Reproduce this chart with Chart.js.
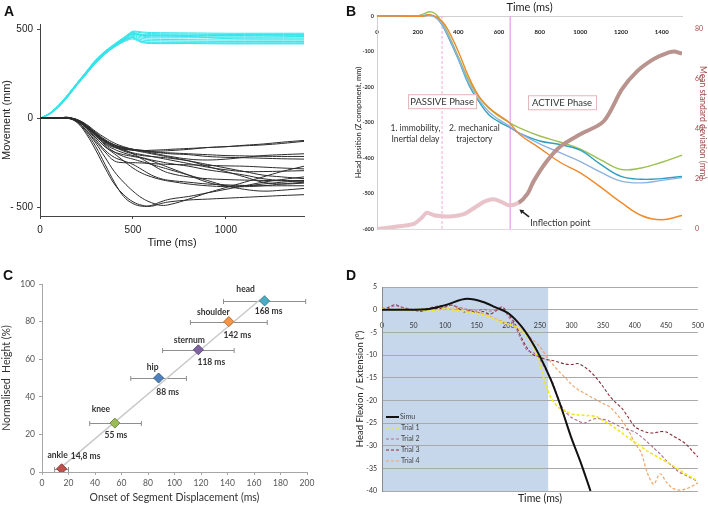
<!DOCTYPE html>
<html>
<head>
<meta charset="utf-8">
<script src="https://cdn.jsdelivr.net/npm/chart.js@4.4.1/dist/chart.umd.min.js"></script>
<style>
  body { margin: 0; background: #fff; width: 708px; height: 506px; position: relative; overflow: hidden; }
  canvas { position: absolute; }
  .panel { position: absolute; font: bold 14px "Liberation Sans", Arial, sans-serif; color: #111; }
</style>
</head>
<body>
<canvas id="chartA" width="354" height="253" style="left:0;top:0"></canvas>
<canvas id="chartB" width="354" height="253" style="left:354px;top:0"></canvas>
<canvas id="chartC" width="354" height="253" style="left:0;top:253px"></canvas>
<canvas id="chartD" width="354" height="253" style="left:354px;top:253px"></canvas>
<div class="panel" style="left:4px;top:3px">A</div>
<div class="panel" style="left:346px;top:3px">B</div>
<div class="panel" style="left:3px;top:267px">C</div>
<div class="panel" style="left:346px;top:267px">D</div>
<script>
// ---------- A : movement of trials ----------
const timeCyan = [0, 50, 100, 150, 200, 250, 300, 350, 400, 450, 480, 500, 550, 600, 800, 1000, 1200, 1420];
const cyanRuns = [
  [0, 28, 75, 135, 200, 265, 330, 378, 418, 455, 478, 490, 485, 482, 480, 478, 478, 478],
  [0, 26, 72, 132, 198, 262, 325, 374, 414, 450, 474, 486, 480, 476, 474, 472, 472, 472],
  [0, 24, 70, 128, 195, 258, 320, 370, 410, 446, 470, 482, 470, 466, 466, 465, 466, 466],
  [0, 25, 68, 126, 192, 255, 318, 368, 408, 444, 466, 478, 462, 458, 458, 458, 458, 460],
  [0, 23, 66, 124, 190, 252, 315, 365, 405, 440, 462, 472, 456, 452, 452, 452, 452, 452],
  [0, 27, 73, 133, 199, 263, 326, 376, 414, 448, 468, 476, 466, 464, 460, 448, 446, 446],
  [0, 22, 64, 122, 188, 250, 312, 362, 402, 436, 456, 466, 448, 444, 442, 440, 440, 440],
  [0, 24, 67, 125, 191, 254, 316, 366, 404, 438, 452, 460, 440, 436, 434, 432, 432, 432],
  [0, 21, 62, 120, 186, 248, 310, 360, 400, 432, 448, 455, 432, 428, 428, 428, 428, 428],
  [0, 25, 69, 127, 193, 256, 319, 369, 407, 440, 450, 452, 430, 424, 424, 422, 422, 422],
  [0, 23, 65, 123, 189, 251, 313, 363, 401, 430, 442, 446, 425, 420, 420, 418, 418, 418],
  [0, 26, 71, 130, 196, 260, 322, 372, 410, 445, 465, 475, 470, 470, 468, 470, 470, 470]
];
const timeBlack = [0, 100, 150, 200, 250, 300, 350, 400, 450, 500, 550, 600, 650, 700, 800, 900, 1000, 1100, 1200, 1300, 1420];
const blackRuns = [
  [0, 0, 5, -20, -80, -160, -260, -360, -440, -480, -495, -490, -470, -455, -440, -420, -400, -380, -360, -345, -330],
  [0, 0, 0, -25, -90, -180, -280, -370, -430, -470, -490, -495, -480, -470, -460, -455, -450, -445, -440, -435, -430],
  [0, 0, 0, -20, -70, -140, -220, -300, -360, -410, -450, -475, -490, -485, -455, -420, -390, -360, -330, -300, -270],
  [0, 0, 0, -15, -60, -120, -180, -220, -240, -260, -290, -320, -340, -350, -360, -370, -375, -378, -380, -380, -380],
  [0, 0, 2, -10, -50, -100, -150, -190, -215, -230, -245, -260, -275, -290, -320, -350, -380, -400, -410, -405, -395],
  [0, 0, 0, -15, -55, -110, -160, -200, -240, -280, -310, -330, -345, -355, -370, -380, -385, -385, -380, -370, -360],
  [0, 0, 5, -10, -45, -90, -130, -160, -180, -195, -205, -215, -225, -235, -255, -275, -290, -300, -300, -298, -295],
  [0, 0, 3, -12, -50, -95, -140, -165, -175, -180, -185, -190, -195, -200, -205, -215, -220, -222, -225, -228, -230],
  [0, 0, 0, -8, -40, -85, -125, -150, -165, -175, -180, -185, -185, -182, -175, -165, -160, -155, -150, -142, -130],
  [0, 0, 2, -12, -48, -92, -135, -160, -170, -178, -182, -180, -178, -175, -170, -165, -160, -152, -145, -135, -125],
  [0, 0, 0, -10, -45, -90, -130, -155, -170, -180, -190, -200, -210, -220, -240, -270, -300, -330, -360, -370, -365],
  [0, 0, 4, -14, -52, -100, -145, -175, -195, -210, -222, -235, -245, -255, -270, -290, -305, -320, -340, -350, -350],
  [0, 0, 0, -10, -40, -80, -120, -150, -175, -200, -230, -260, -290, -310, -330, -340, -345, -348, -350, -352, -355],
  [0, 0, 2, -8, -35, -75, -110, -140, -160, -175, -185, -195, -205, -215, -230, -235, -230, -220, -210, -205, -200],
  [0, 0, 0, -12, -45, -90, -130, -160, -185, -200, -210, -215, -220, -225, -240, -260, -280, -300, -320, -330, -340],
  [0, 0, 3, -15, -55, -110, -160, -190, -205, -215, -225, -240, -260, -280, -320, -360, -380, -380, -370, -360, -350],
  [0, 0, 0, -20, -70, -130, -190, -240, -250, -250, -252, -255, -258, -260, -262, -265, -268, -270, -275, -280, -285],
  [0, 0, 2, -10, -42, -85, -125, -150, -165, -175, -182, -188, -192, -195, -200, -205, -210, -212, -214, -215, -215]
];
const tickAx = [0, 500, 1000];
const tickAy = [-500, 0, 500];

// ---------- B : head position and mean SD ----------
const timeHead = [0, 100, 200, 230, 260, 290, 320, 350, 400, 450, 500, 550, 600, 650, 700, 800, 900, 1000, 1100, 1200, 1300, 1400, 1500];
const headGreen  = [0, 0, 1, 6, 12, 5, -18, -50, -115, -180, -228, -260, -282, -300, -315, -338, -355, -375, -405, -432, -428, -412, -392];
const headTeal   = [0, 0, 0, 1, 3, -4, -25, -58, -122, -192, -240, -278, -298, -313, -330, -352, -362, -378, -418, -452, -460, -458, -452];
const headBlue   = [0, 0, 0, 0, 2, -5, -24, -55, -120, -188, -235, -270, -292, -310, -330, -360, -385, -410, -440, -465, -470, -463, -455];
const headOrange = [0, 0, -1, 0, 4, -2, -15, -40, -100, -170, -225, -258, -280, -300, -333, -372, -412, -442, -482, -525, -562, -574, -562];
const timeSd = [0, 100, 180, 220, 245, 280, 310, 360, 426, 480, 530, 574, 620, 648, 697, 740, 770, 835, 903, 1000, 1115, 1205, 1280, 1360, 1420, 1459, 1500];
const meanSd = [0, 1, 2, 4.5, 6.5, 5.5, 5.2, 5, 5.9, 8.5, 11, 11.9, 10.5, 9.5, 10.5, 14, 19, 27, 33, 37.8, 43, 55.8, 63, 67.8, 70, 70.8, 70];
const tickBx = [0, 200, 400, 600, 800, 1000, 1200, 1400];
const tickBy = [0, -100, -200, -300, -400, -500, -600];
const tickBsd = [0, 20, 40, 60, 80];
const passiveStart = 320;   // end of inertial delay (ms)
const activeStart = 655;    // start of active phase (ms)
const inflectionTime = 697;

// ---------- C : onset of segment displacement ----------
const segments = ['ankle', 'knee', 'hip', 'sternum', 'shoulder', 'head'];
const onsetMs = [14.8, 55, 88, 118, 141, 168];
const heightPct = [1.7, 26, 50, 65, 80, 91];
const onsetLow = [9.5, 36, 67, 91, 112, 137];
const onsetHigh = [20, 75, 109, 145, 170, 199];
const onsetText = ['14,8 ms', '55 ms', '88 ms', '118 ms', '142 ms', '168 ms'];
const trendX = [12.6, 168.5];
const trendY = [1.4, 94];
const tickC = [0, 20, 40, 60, 80, 100, 120, 140, 160, 180, 200];
const tickCy = [0, 20, 40, 60, 80, 100];

// ---------- D : head flexion / extension ----------
const timeSimu = [0, 40, 70, 100, 135, 160, 180, 200, 220, 235, 250, 267, 283, 299, 315, 330];
const simu = [0, 0, 0.1, 1, 2.4, 1.7, 0.5, -0.8, -3.6, -6.6, -10.3, -15.4, -21.3, -28, -33.9, -40];
const timeTrial = [0, 10, 20, 30, 40, 50, 60, 70, 80, 90, 100, 110, 120, 130, 140, 150, 160, 170, 180, 190, 200,
  210, 220, 230, 240, 250, 260, 270, 280, 290, 300, 310, 320, 330, 340, 350, 360, 370, 380, 390, 400,
  410, 420, 430, 440, 450, 460, 470, 480, 490, 500];
const trial1 = [0.2, 0, -0.1, 0, -0.2, -0.1, 0, -0.3, -0.2, 0, 0.2, 0, -0.2, -0.4, -0.6, -0.8, -1.2, -1.6, -2.2, -2.8, -3.2,
  -3.6, -4.5, -6, -8.5, -12, -17, -20, -21.6, -22.4, -23, -23.2, -23.3, -23.4, -23.6, -24.5, -25.3, -26.2, -27.2, -28.3, -29.2,
  -30.2, -31.2, -32, -32.8, -33.6, -34.4, -35.3, -36.2, -37, -37.8];
const trial2 = [0.4, 0.2, 0.9, 0.6, 0.3, -0.2, 0, 0.2, 0.6, 0.8, 0.9, 1, 0.6, 0.2, 0, -0.3, 0.1, -0.3, -0.1, 0.4, -1.5,
  -3.5, -6.5, -9, -9.5, -11, -13.5, -16, -20, -22.5, -23.8, -24.5, -25, -24.4, -24, -24.2, -24.6, -25.3, -26, -26.5, -27,
  -28, -29.2, -30.5, -31.8, -33.3, -34.6, -35.8, -36.5, -37.2, -37.9];
const trial3 = [0.1, 0.5, 1.1, 0.6, 0.2, 0, -0.4, 0, 0.4, 0.2, 0.6, 1, 0.4, -0.5, -0.2, -0.8, -0.4, -1, -0.3, 0.6, -1,
  -3, -6, -8.5, -10, -10.5, -11, -11.2, -11.6, -12, -12.1, -11.9, -12.6, -13.7, -15.2, -17, -19, -20.5, -21.8, -23.8, -25.8,
  -26.6, -27.1, -27.2, -26.9, -27, -27.8, -28.6, -29.5, -31, -32.5];
const trial4 = [0.3, 0.1, -0.1, 0.2, 0, -0.2, 0.1, 0.3, 0.2, 0.5, 0.4, 0.1, 0.3, 0, -0.3, -0.5, -0.9, -1.4, -2, -2.6, -3.2,
  -3.8, -4.6, -5.5, -6.8, -8.2, -10.2, -12, -13.6, -15, -16.5, -17.6, -18.4, -19.2, -19.9, -20.7, -21.4, -22.8, -24.5, -26.6, -29.4,
  -31.5, -36, -38.5, -36.2, -38, -39.4, -39.8, -39.6, -39, -38.2];
const tickDx = [0, 50, 100, 150, 200, 250, 300, 350, 400, 450, 500];
const tickDy = [5, 0, -5, -10, -15, -20, -25, -30, -35, -40];
const shadeEnd = 263;

// ---------- helpers ----------
const pts = (xs, ys) => ys.map((v, i) => ({ x: xs[i], y: v }));
const setTicks = list => s => { s.ticks = list.map(v => ({ value: v })); };
const plain = v => String(v);
const noTip = { legend: { display: false }, tooltip: { enabled: false } };

// ===== Chart A =====
const datasetsA = [];
blackRuns.forEach(r => datasetsA.push({ data: pts(timeBlack, r), borderColor: '#2b2b2b', borderWidth: 1, pointRadius: 0, tension: 0.4 }));
cyanRuns.forEach(r => datasetsA.push({ data: pts(timeCyan, r), borderColor: '#35e4ea', borderWidth: 1, pointRadius: 0, tension: 0.3 }));

new Chart(document.getElementById('chartA'), {
  type: 'line',
  data: { datasets: datasetsA },
  options: {
    responsive: false, animation: false,
    layout: { padding: { left: 0, top: 24, right: 50, bottom: 0 } },
    plugins: noTip,
    scales: {
      x: {
        type: 'linear', min: 0, max: 1420,
        afterBuildTicks: setTicks(tickAx),
        afterFit: s => { s.height = 37; },
        grid: { drawOnChartArea: false, tickLength: 3, color: '#444' },
        border: { color: '#444' },
        ticks: { color: '#222', font: { family: 'Liberation Sans', size: 10 }, padding: 5, maxRotation: 0, callback: plain },
        title: { display: true, text: 'Time (ms)', color: '#222', font: { family: 'Liberation Sans', size: 11 }, padding: { top: 0, bottom: 3 } }
      },
      y: {
        min: -550, max: 530,
        afterBuildTicks: setTicks(tickAy),
        afterFit: s => { s.width = 40; },
        grid: { drawOnChartArea: false, tickLength: 3, color: '#444' },
        border: { color: '#444' },
        ticks: { color: '#222', font: { family: 'Liberation Sans', size: 10 }, padding: 4, callback: v => v < 0 ? '- ' + Math.abs(v) : String(v) },
        title: { display: true, text: 'Movement (mm)', color: '#222', font: { family: 'Liberation Sans', size: 11 }, padding: { top: 0, bottom: 0 } }
      }
    }
  }
});

// ===== Chart B =====
const phasePlugin = {
  id: 'phases',
  beforeDatasetsDraw(chart) {
    const { ctx, chartArea: a, scales: { x } } = chart;
    ctx.save();
    ctx.lineWidth = 1;
    ctx.strokeStyle = '#f4a8de';
    ctx.setLineDash([3, 2]);
    let px = x.getPixelForValue(passiveStart);
    ctx.beginPath(); ctx.moveTo(px, a.top); ctx.lineTo(px, a.bottom); ctx.stroke();
    ctx.setLineDash([]);
    ctx.strokeStyle = '#e7a2ee';
    ctx.lineWidth = 1.3;
    px = x.getPixelForValue(activeStart);
    ctx.beginPath(); ctx.moveTo(px, a.top); ctx.lineTo(px, a.bottom); ctx.stroke();
    ctx.restore();
  },
  afterDatasetsDraw(chart) {
    const { ctx, scales: { x, y } } = chart;
    ctx.save();
    ctx.font = '9.5px Lato';
    ctx.textAlign = 'center';
    ctx.textBaseline = 'middle';
    const box = (t, tx, ty) => {
      const cx = x.getPixelForValue(tx), cy = y.getPixelForValue(ty);
      const w = 68, h = 14;
      ctx.fillStyle = '#fff';
      ctx.fillRect(cx - w / 2, cy - h / 2, w, h);
      ctx.strokeStyle = '#e2b6b8';
      ctx.lineWidth = 1;
      ctx.strokeRect(cx - w / 2 + 0.5, cy - h / 2 + 0.5, w, h);
      ctx.fillStyle = '#333';
      ctx.fillText(t, cx, cy + 0.5);
    };
    box('PASSIVE Phase', passiveStart, -240);
    box('ACTIVE Phase', 910, -243);
    ctx.font = '8.5px Lato';
    ctx.fillStyle = '#333';
    const text = (t, tx, ty) => ctx.fillText(t, x.getPixelForValue(tx), y.getPixelForValue(ty));
    text('1. immobility,', 189, -317);
    text('Inertial delay', 189, -348);
    text('2. mechanical', 479, -317);
    text('trajectory', 479, -348);
    ctx.font = '9px Lato';
    text('Inflection point', 902, -582);
    // arrow towards the inflection point
    const hx = x.getPixelForValue(inflectionTime + 3), hy = y.getPixelForValue(-545);
    const tx = x.getPixelForValue(748), ty = y.getPixelForValue(-566);
    ctx.strokeStyle = '#222'; ctx.fillStyle = '#222'; ctx.lineWidth = 1.6;
    ctx.beginPath(); ctx.moveTo(tx, ty); ctx.lineTo(hx + 2, hy + 1.5); ctx.stroke();
    const ang = Math.atan2(hy - ty, hx - tx);
    ctx.beginPath();
    ctx.moveTo(hx, hy);
    ctx.lineTo(hx - 5 * Math.cos(ang - 0.5), hy - 5 * Math.sin(ang - 0.5));
    ctx.lineTo(hx - 5 * Math.cos(ang + 0.5), hy - 5 * Math.sin(ang + 0.5));
    ctx.closePath(); ctx.fill();
    ctx.restore();
  }
};

const headLine = (data, color) => ({
  data: pts(timeHead, data), xAxisID: 'x', yAxisID: 'y', borderColor: color, borderWidth: 1.4,
  pointRadius: 0, tension: 0.4, clip: { left: 1, top: 8, right: 1, bottom: 1 }
});
new Chart(document.getElementById('chartB'), {
  type: 'line',
  data: {
    datasets: [
      {
        data: pts(timeSd, meanSd), xAxisID: 'x', yAxisID: 'ySd', borderWidth: 4, pointRadius: 0, tension: 0.3,
        borderColor: '#c9a3a6',
        segment: { borderColor: c => c.p0.parsed.x < inflectionTime ? '#e8c3ca' : '#b9948f' }
      },
      headLine(headOrange, '#ee8a2c'),
      headLine(headBlue, '#8fb2df'),
      headLine(headTeal, '#2f9fbd'),
      headLine(headGreen, '#9cc053')
    ]
  },
  options: {
    responsive: false, animation: false,
    layout: { padding: { left: 0, top: 0, right: 0, bottom: 24 } },
    plugins: noTip,
    scales: {
      x: {
        type: 'linear', min: 0, max: 1500, position: { y: 0 },
        afterBuildTicks: setTicks(tickBx),
        grid: { display: false },
        border: { color: '#d0d0d0' },
        ticks: { color: '#222', font: { family: 'Lato', size: 6, weight: 'bold' }, padding: 4, maxRotation: 0, callback: plain }
      },
      xTitle: {
        type: 'linear', position: 'top',
        afterFit: s => { s.height = 16; },
        grid: { display: false }, border: { display: false },
        ticks: { display: false },
        title: { display: true, text: 'Time (ms)', color: '#222', font: { family: 'Lato', size: 11 }, padding: { top: 1, bottom: 0 } }
      },
      y: {
        position: 'left', min: -600, max: 0,
        afterBuildTicks: setTicks(tickBy),
        afterFit: s => { s.width = 23; },
        grid: { drawTicks: false, color: c => c.tick.value === -600 ? '#dcdcdc' : 'rgba(0,0,0,0)' },
        border: { color: '#d0d0d0' },
        ticks: { color: '#333', font: { family: 'Lato', size: 5.5, weight: 'bold' }, padding: 3 },
        title: { display: true, text: 'Head position (Z component, mm)', color: '#222', font: { family: 'Lato', size: 7.5 }, padding: { top: 0, bottom: 0 } }
      },
      ySd: {
        position: 'right', min: 0, max: 85,
        afterBuildTicks: setTicks(tickBsd),
        afterFit: s => { s.width = 26; },
        grid: { display: false }, border: { display: false },
        ticks: { color: '#a04a4a', font: { family: 'Lato', size: 7 }, padding: 5 },
        title: { display: true, text: 'Mean standard deviation (mm)', color: '#a04a4a', font: { family: 'Lato', size: 8.5 }, padding: { top: 0, bottom: 1 } }
      }
    }
  },
  plugins: [phasePlugin]
});

// ===== Chart C =====
const segColors = ['#c0504d', '#9bbb59', '#4f81bd', '#8064a2', '#f79646', '#4bacc6'];
const segBorders = ['#8c3836', '#718a40', '#38608d', '#5c4778', '#b86d32', '#347f93'];
const nameOffset = [[-4, -13.5], [-14, -14], [-6, -11], [-9, -10], [-15.5, -9.5], [-19, -12]];
const timeOffset = [[24, -12.5], [1, 12], [9, 14], [13, 12], [8.5, 13.6], [4, 10]];
const onsetPlugin = {
  id: 'onset',
  beforeDatasetsDraw(chart) {
    const { ctx, scales: { x, y } } = chart;
    ctx.save();
    ctx.strokeStyle = '#8e8e8e';
    ctx.lineWidth = 1;
    segments.forEach((s, i) => {
      const py = Math.round(y.getPixelForValue(heightPct[i])) + 0.5;
      const x0 = x.getPixelForValue(onsetLow[i]), x1 = x.getPixelForValue(onsetHigh[i]);
      ctx.beginPath();
      ctx.moveTo(x0, py); ctx.lineTo(x1, py);
      ctx.moveTo(x0, py - 2.5); ctx.lineTo(x0, py + 2.5);
      ctx.moveTo(x1, py - 2.5); ctx.lineTo(x1, py + 2.5);
      ctx.stroke();
    });
    ctx.restore();
  },
  afterDatasetsDraw(chart) {
    const { ctx, scales: { x, y } } = chart;
    ctx.save();
    ctx.font = 'bold 8.5px Lato';
    ctx.fillStyle = '#333';
    ctx.textAlign = 'center';
    ctx.textBaseline = 'middle';
    segments.forEach((s, i) => {
      const px = x.getPixelForValue(onsetMs[i]), py = y.getPixelForValue(heightPct[i]);
      ctx.fillText(s, px + nameOffset[i][0], py + nameOffset[i][1]);
      ctx.fillText(onsetText[i], px + timeOffset[i][0], py + timeOffset[i][1]);
    });
    ctx.restore();
  }
};

new Chart(document.getElementById('chartC'), {
  type: 'scatter',
  data: {
    datasets: [
      { type: 'line', data: pts(trendX, trendY), borderColor: '#c9c9c9', borderWidth: 1.5, pointRadius: 0, order: 2 },
      {
        data: pts(onsetMs, heightPct), order: 1, pointStyle: 'rectRot', pointRadius: 5,
        backgroundColor: segColors, borderColor: segBorders, borderWidth: 1
      }
    ]
  },
  options: {
    responsive: false, animation: false,
    layout: { padding: { left: 0, top: 31, right: 47, bottom: 0 } },
    plugins: noTip,
    scales: {
      x: {
        type: 'linear', min: 0, max: 200,
        afterBuildTicks: setTicks(tickC),
        afterFit: s => { s.height = 34; },
        grid: { drawOnChartArea: false, tickLength: 3, color: '#a6a6a6' },
        border: { color: '#a6a6a6' },
        ticks: { color: '#555', font: { family: 'Lato', size: 8.5 }, padding: 3, maxRotation: 0 },
        title: { display: true, text: 'Onset of Segment Displacement (ms)', color: '#333', font: { family: 'Lato', size: 10.5 }, padding: { top: 0, bottom: 2 } }
      },
      y: {
        min: 0, max: 100,
        afterBuildTicks: setTicks(tickCy),
        afterFit: s => { s.width = 42; },
        grid: { drawOnChartArea: false, tickLength: 3, color: '#a6a6a6' },
        border: { color: '#a6a6a6' },
        ticks: { color: '#555', font: { family: 'Lato', size: 8.5 }, padding: 4 },
        title: { display: true, text: 'Normalised  Height (%)', color: '#333', font: { family: 'Lato', size: 10.5 }, padding: { top: 0, bottom: 2 } }
      }
    }
  },
  plugins: [onsetPlugin]
});

// ===== Chart D =====
const shadePlugin = {
  id: 'shade',
  beforeDraw(chart) {
    const { ctx, chartArea: a, scales: { x } } = chart;
    const x1 = x.getPixelForValue(shadeEnd);
    ctx.save();
    ctx.fillStyle = '#c6d7eb';
    ctx.fillRect(a.left, a.top, x1 - a.left, a.bottom - a.top);
    ctx.restore();
  },
  afterDatasetsDraw(chart) {
    const { ctx } = chart;
    ctx.save();
    ctx.font = '7px Lato';
    ctx.textBaseline = 'middle';
    chart.data.datasets.forEach((d, i) => {
      const ly = 164 + i * 11;
      ctx.strokeStyle = d.borderColor;
      ctx.lineWidth = i === 0 ? 2 : 1.2;
      ctx.setLineDash(d.borderDash || []);
      ctx.beginPath(); ctx.moveTo(32, ly); ctx.lineTo(45, ly); ctx.stroke();
      ctx.fillStyle = '#444';
      ctx.fillText(d.label, i === 0 ? 46 : 47, ly);
    });
    ctx.restore();
  }
};
const trialLine = (label, data, color, w) => ({ label, data: pts(timeTrial, data), xAxisID: 'x', borderColor: color, borderWidth: w, borderDash: [3, 2], pointRadius: 0, tension: 0.3, order: 1 });
new Chart(document.getElementById('chartD'), {
  type: 'line',
  data: {
    datasets: [
      { label: 'Simu', data: pts(timeSimu, simu), xAxisID: 'x', borderColor: '#111', borderWidth: 2, pointRadius: 0, cubicInterpolationMode: 'monotone', order: 0 },
      trialLine('Trial 1', trial1, '#f2e81a', 1.6),
      trialLine('Trial 2', trial2, '#b46a8c', 1.1),
      trialLine('Trial 3', trial3, '#8a2a34', 1.1),
      trialLine('Trial 4', trial4, '#f0a466', 1.2)
    ]
  },
  options: {
    responsive: false, animation: false,
    layout: { padding: { left: 0, top: 34, right: 10, bottom: 0 } },
    plugins: noTip,
    scales: {
      x: {
        type: 'linear', min: 0, max: 500, position: { y: 0 },
        afterBuildTicks: setTicks(tickDx),
        grid: { display: false }, border: { display: false },
        ticks: { color: '#333', font: { family: 'Lato', size: 7 }, padding: 4, maxRotation: 0 }
      },
      xTitle: {
        type: 'linear', position: 'bottom',
        afterFit: s => { s.height = 15; },
        grid: { display: false }, border: { display: false },
        ticks: { display: false },
        title: { display: true, text: 'Time (ms)', color: '#222', font: { family: 'Lato', size: 10.5 }, padding: { top: 0, bottom: 1 } }
      },
      y: {
        min: -40, max: 5,
        afterBuildTicks: setTicks(tickDy),
        afterFit: s => { s.width = 28; },
        grid: { drawTicks: false, color: '#a9a9a9' },
        border: { color: '#8a8a8a' },
        ticks: { color: '#333', font: { family: 'Lato', size: 7 }, padding: 5 },
        title: { display: true, text: 'Head Flexion / Extension (°)', color: '#222', font: { family: 'Lato', size: 9.5 }, padding: { top: 0, bottom: 1 } }
      }
    }
  },
  plugins: [shadePlugin]
});
</script>
</body>
</html>
